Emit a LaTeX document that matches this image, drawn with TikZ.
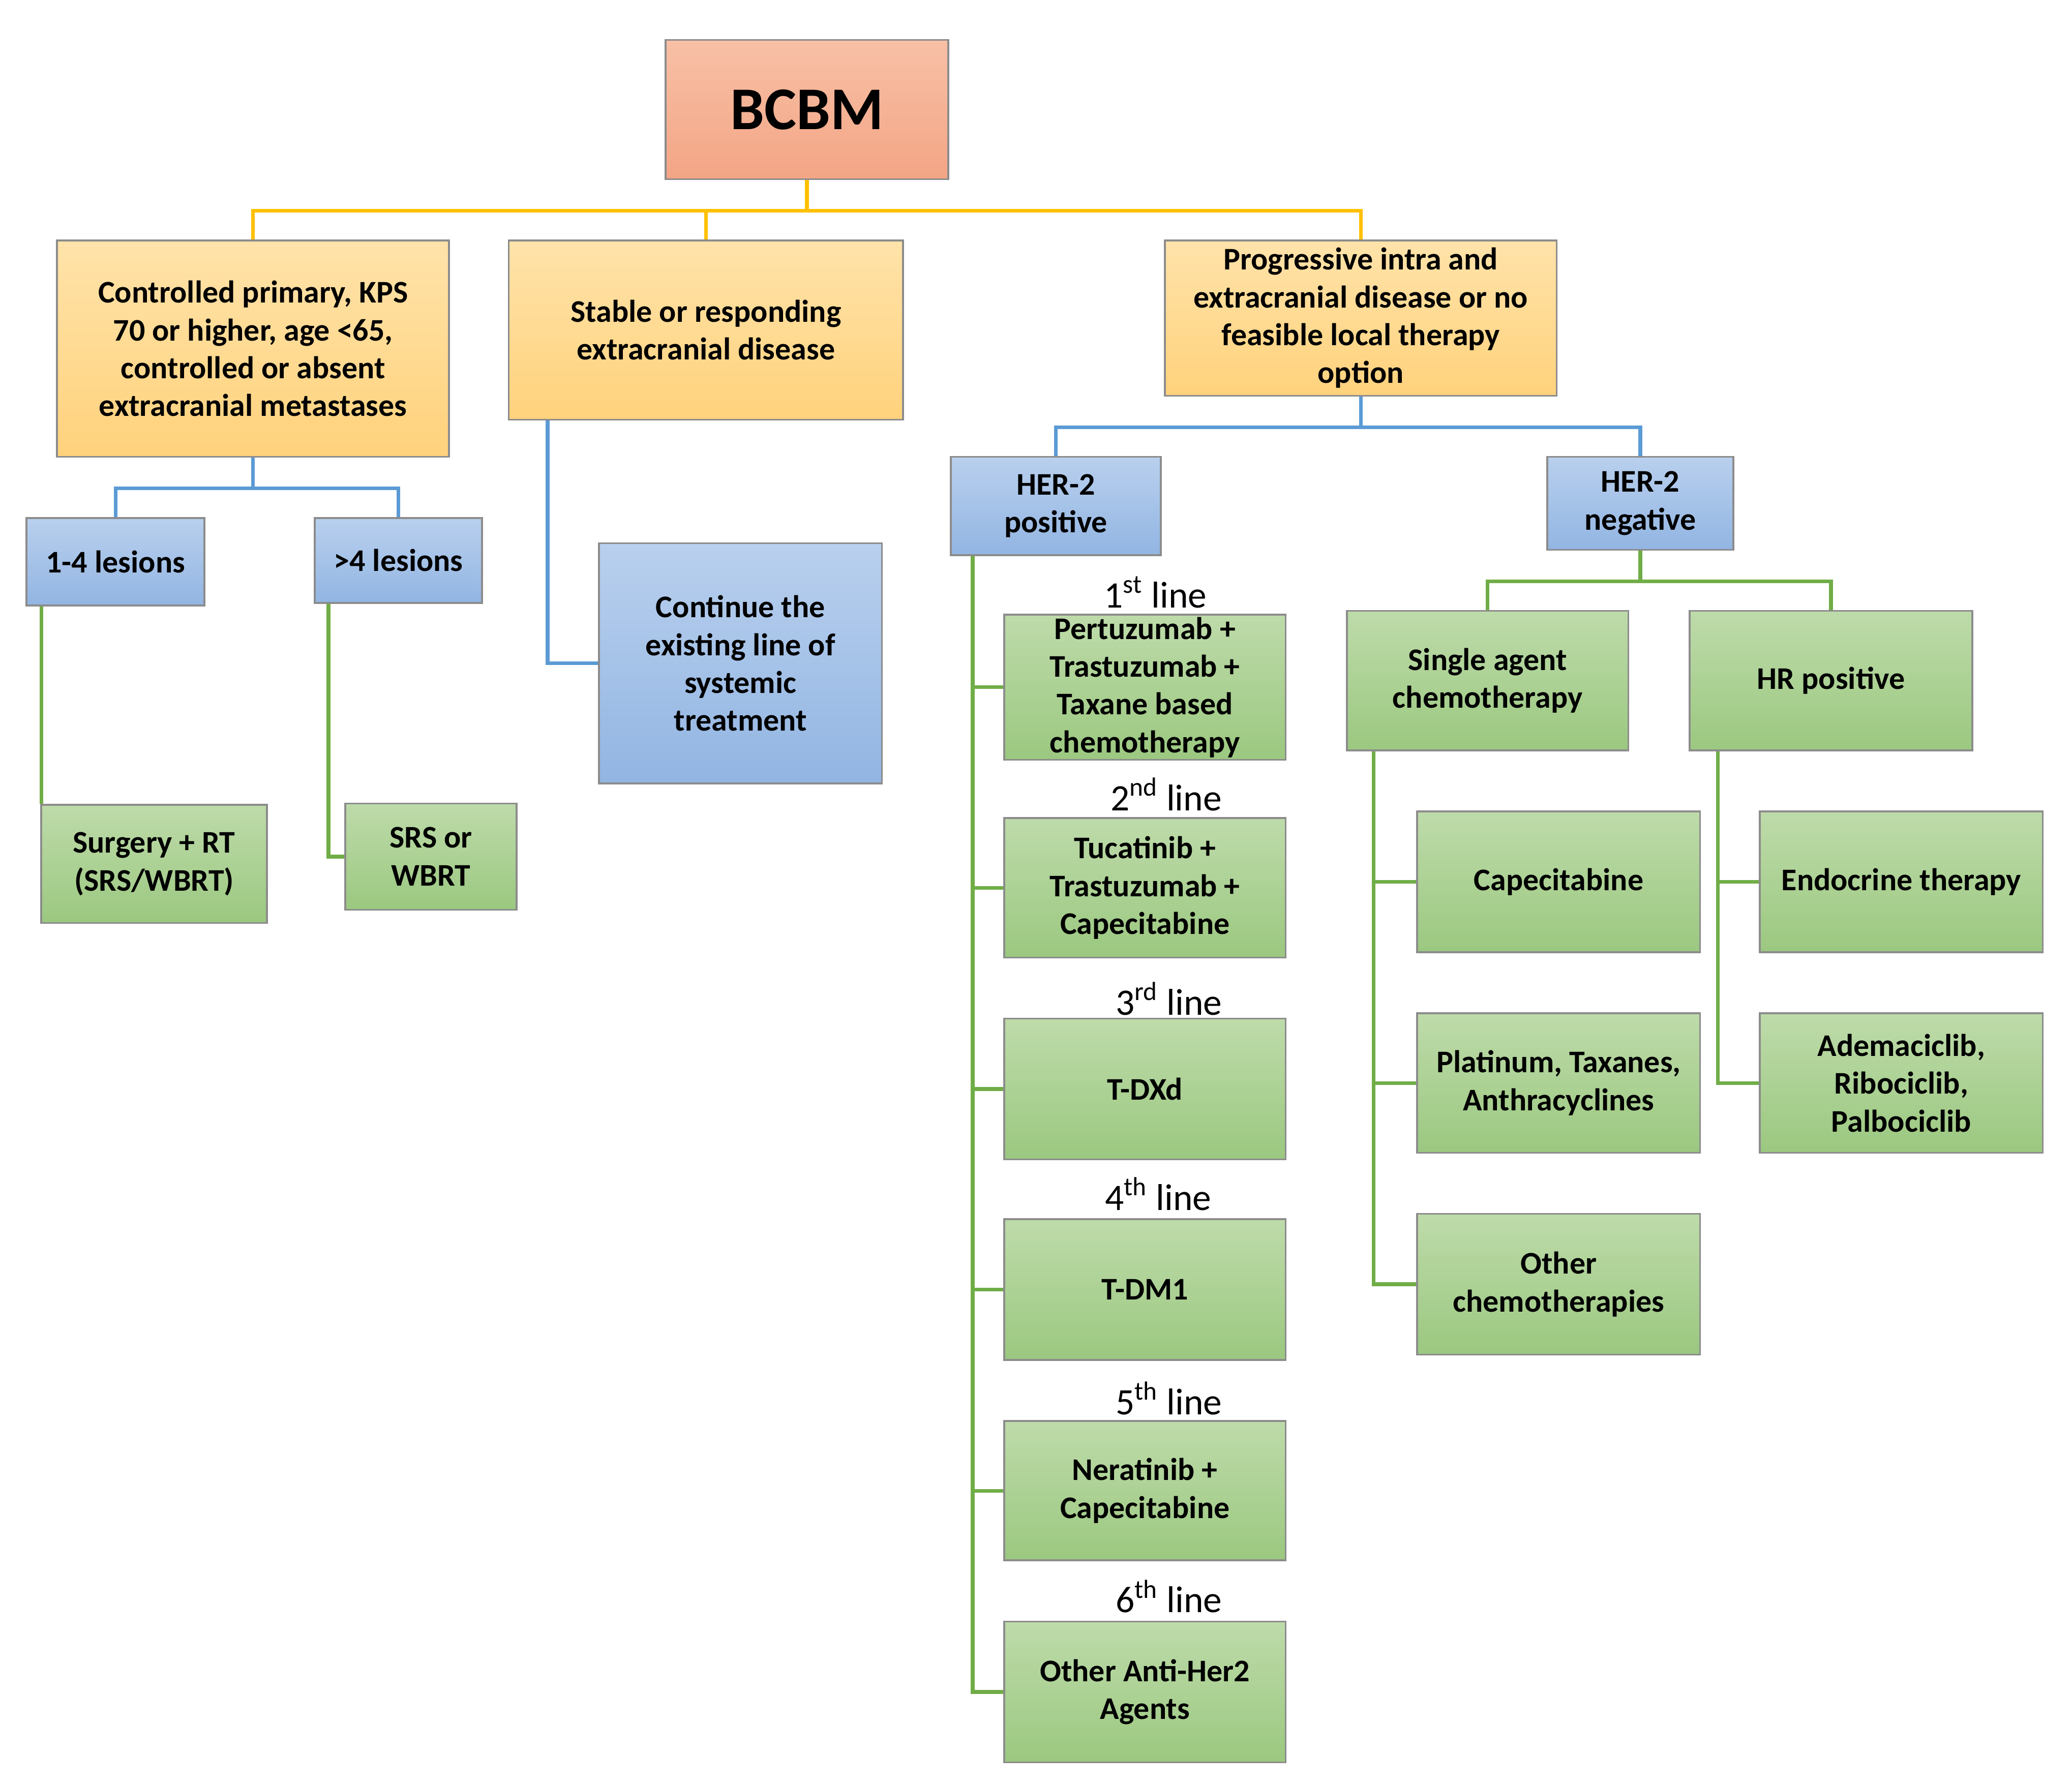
\documentclass[tikz,border=0pt]{standalone}
\usepackage{fontspec}
\setmainfont{Carlito}
\definecolor{rT}{HTML}{F8C0A6}\definecolor{rB}{HTML}{F3A585}
\definecolor{oT}{HTML}{FFE3AA}\definecolor{oB}{HTML}{FFD27C}
\definecolor{bT}{HTML}{B9D0EE}\definecolor{bB}{HTML}{92B5E2}
\definecolor{gT}{HTML}{BEDBAA}\definecolor{gB}{HTML}{9BC880}
\definecolor{lO}{HTML}{FFC000}\definecolor{lB}{HTML}{5B9BD5}\definecolor{lG}{HTML}{70AD47}
\begin{document}
\begin{tikzpicture}[x=0.02cm,y=-0.02cm,
 base/.style={draw=black!45,line width=0.8pt,align=center,inner sep=1pt,font=\bfseries\fontsize{13.5}{16.2}\selectfont},
 red/.style={base,top color=rT,bottom color=rB},
 org/.style={base,top color=oT,bottom color=oB},
 blu/.style={base,top color=bT,bottom color=bB},
 grn/.style={base,top color=gT,bottom color=gB},
 lo/.style={draw=lO,line width=1.6pt},
 lb/.style={draw=lB,line width=1.6pt},
 lg/.style={draw=lG,line width=1.6pt},
 lab/.style={font=\fontsize{16}{18}\selectfont}]
\newcommand\bx[7]{\node[#6,minimum width={(#4-#2)*0.02cm},minimum height={(#5-#3)*0.02cm}] (#1) at ({(#2+#4)/2},{(#3+#5)/2}) {#7};}
\useasboundingbox (0,0) rectangle (1560,1344);
\bx{bcbm}{501}{30}{714}{135}{red}{\fontsize{26}{30}\selectfont BCBM}
\bx{A}{43}{181}{338}{344}{org}{Controlled primary, KPS\\70 or higher, age <65,\\controlled or absent\\extracranial metastases}
\bx{B}{383}{181}{680}{316}{org}{Stable or responding\\extracranial disease}
\bx{C}{877}{181}{1172}{298}{org}{Progressive intra and\\extracranial disease or no\\feasible local therapy\\option}
\bx{L1}{20}{390}{154}{456}{blu}{1-4 lesions}
\bx{L2}{237}{390}{363}{454}{blu}{>4 lesions}
\bx{cont}{451}{409}{664}{590}{blu}{Continue the\\existing line of\\systemic\\treatment}
\bx{HP}{716}{344}{874}{418}{blu}{HER-2\\positive}
\bx{HN}{1165}{344}{1305}{414}{blu}{HER-2\\negative}
\bx{surg}{31}{606}{201}{695}{grn}{Surgery + RT\\(SRS/WBRT)}
\bx{srs}{260}{605}{389}{685}{grn}{SRS or\\WBRT}
\bx{h1}{756}{465}{968}{570}{grn}{Pertuzumab +\\Trastuzumab +\\Taxane based\\chemotherapy}
\bx{h2}{756}{616}{968}{721}{grn}{Tucatinib +\\Trastuzumab +\\Capecitabine}
\bx{h3}{756}{767}{968}{873}{grn}{T-DXd}
\bx{h4}{756}{918}{968}{1024}{grn}{T-DM1}
\bx{h5}{756}{1070}{968}{1175}{grn}{Neratinib +\\Capecitabine}
\bx{h6}{756}{1221}{968}{1327}{grn}{Other Anti-Her2\\Agents}
\bx{sa}{1014}{460}{1226}{565}{grn}{Single agent\\chemotherapy}
\bx{hr}{1272}{460}{1485}{565}{grn}{HR positive}
\bx{c1}{1067}{611}{1280}{717}{grn}{Capecitabine}
\bx{c2}{1067}{763}{1280}{868}{grn}{Platinum, Taxanes,\\Anthracyclines}
\bx{c3}{1067}{914}{1280}{1020}{grn}{Other\\chemotherapies}
\bx{e1}{1325}{611}{1538}{717}{grn}{Endocrine therapy}
\bx{e2}{1325}{763}{1538}{868}{grn}{Ademaciclib,\\Ribociclib,\\Palbociclib}
\node[lab] (t1) at (870,446) {1\textsuperscript{st} line};
\node[lab] (t2) at (878,598) {2\textsuperscript{nd} line};
\node[lab] (t3) at (880,752) {3\textsuperscript{rd} line};
\node[lab] (t4) at (872,899) {4\textsuperscript{th} line};
\node[lab] (t5) at (880,1053) {5\textsuperscript{th} line};
\node[lab] (t6) at (880,1202) {6\textsuperscript{th} line};
\draw[lo] (bcbm.south) -- ++(0,23) coordinate (j1);
\draw[lo] (A.north) |- (j1); \draw[lo] (B.north) |- (j1); \draw[lo] (C.north) |- (j1);
\draw[lb] (A.south) -- ++(0,23) coordinate (j2);
\draw[lb] (L1.north) |- (j2); \draw[lb] (L2.north) |- (j2);
\draw[lb] ([xshift=0.6cm]B.south west) |- (cont.west);
\draw[lb] (C.south) -- ++(0,23) coordinate (j3);
\draw[lb] (HP.north) |- (j3); \draw[lb] (HN.north) |- (j3);
\draw[lg] ([xshift=0.24cm]L1.south west) -- ([xshift=0.24cm]L1.south west |- surg.north);
\draw[lg] ([xshift=0.22cm]L2.south west) |- (srs.west);
\coordinate (sp1) at ([xshift=0.34cm]HP.south west);
\foreach \n in {h1,h2,h3,h4,h5,h6} \draw[lg] (\n.west) -| (sp1);
\draw[lg] (HN.south) -- ++(0,23) coordinate (j4);
\draw[lg] (sa.north) |- (j4); \draw[lg] (hr.north) |- (j4);
\coordinate (sp2) at ([xshift=0.42cm]sa.south west);
\foreach \n in {c1,c2,c3} \draw[lg] (\n.west) -| (sp2);
\coordinate (sp3) at ([xshift=0.44cm]hr.south west);
\foreach \n in {e1,e2} \draw[lg] (\n.west) -| (sp3);
\end{tikzpicture}
\end{document}
